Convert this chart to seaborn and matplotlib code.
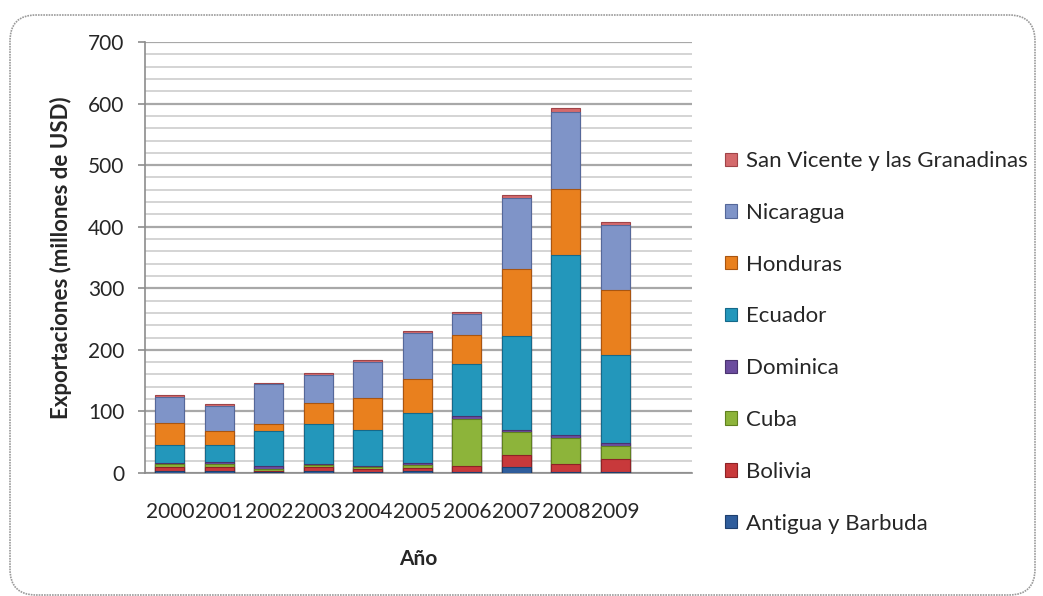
import numpy as np
import pandas as pd
import seaborn as sns
import matplotlib.pyplot as plt
from matplotlib.patches import Patch, FancyBboxPatch
from matplotlib.transforms import Bbox, TransformedBbox, IdentityTransform

# Exportaciones por país y año (millones de USD)
years = ["2000", "2001", "2002", "2003", "2004", "2005", "2006", "2007", "2008", "2009"]
antigua = [3, 3, 1, 3, 2, 4, 2, 9, 2, 2]
bolivia = [6, 7, 2, 6, 4, 4, 9, 21, 13, 20]
cuba = [5, 5, 4, 4, 4, 5, 77, 36, 42, 22]
dominica = [3, 3, 5, 2, 2, 3, 4, 4, 5, 5]
ecuador = [29, 28, 56, 64, 58, 82, 85, 153, 292, 143]
honduras = [35, 22, 12, 34, 52, 54, 47, 108, 107, 106]
nicaragua = [42, 41, 64, 46, 59, 75, 35, 116, 125, 105]
san_vicente = [3, 3, 2, 3, 3, 4, 3, 4, 6, 4]

countries = ["Antigua y Barbuda", "Bolivia", "Cuba", "Dominica",
             "Ecuador", "Honduras", "Nicaragua", "San Vicente y las Granadinas"]
colors = ["#2f5d9c", "#c8393b", "#8db43a", "#6b4c9e",
          "#2397bb", "#e9801e", "#7f94c8", "#d46a6c"]
edges = ["#1e3f6e", "#8e2226", "#60801f", "#4a336f",
         "#15698a", "#a95510", "#55689a", "#a04448"]

series = [antigua, bolivia, cuba, dominica, ecuador, honduras, nicaragua, san_vicente]
df = pd.DataFrame(dict(zip(countries, series)), index=years)
cum = df.cumsum(axis=1)

sns.set_theme(style="white")
plt.rcParams["font.family"] = ["Lato", "DejaVu Sans"]
text_color = "#262626"

fig = plt.figure(figsize=(10.43, 5.96), dpi=100)
ax = fig.add_axes([145 / 1043, 1 - 473 / 596, (692 - 145) / 1043, (473 - 42) / 596])

# stacked bars: draw cumulative totals from the top series down
for i in range(len(countries) - 1, -1, -1):
    name = countries[i]
    sns.barplot(x=years, y=cum[name].values, order=years, color=colors[i],
                saturation=1, width=0.58, edgecolor=edges[i], linewidth=0.8,
                ax=ax, zorder=3)

ax.set_xlim(-0.5, 10.55)
ax.set_ylim(0, 700)
ax.set_yticks(np.arange(0, 701, 100))
ax.set_yticks(np.arange(0, 701, 20), minor=True)
ax.grid(False)
ax.yaxis.grid(True, which="minor", color="#d4d4d4", linewidth=1.4, zorder=0)
ax.yaxis.grid(True, which="major", color="#a8a8a8", linewidth=1.6, zorder=0)
ax.set_axisbelow(True)

for s in ["top", "right"]:
    ax.spines[s].set_visible(False)
ax.spines["left"].set_color("#8c8c8c")
ax.spines["bottom"].set_color("#8c8c8c")
ax.spines["left"].set_linewidth(1.2)
ax.spines["bottom"].set_linewidth(1.2)

ax.tick_params(axis="y", which="major", left=True, length=5, width=1.2,
               color="#8c8c8c", pad=10, labelsize=15, labelcolor=text_color)
ax.tick_params(axis="y", which="minor", left=False)
ax.tick_params(axis="x", length=0, pad=21, labelsize=15, labelcolor=text_color)

ax.set_ylabel("Exportaciones (millones de USD)", fontsize=16, fontweight="bold",
              color=text_color)
ax.yaxis.set_label_coords(-0.133, 0.5)
ax.set_xlabel("Año", fontsize=15, fontweight="bold", color=text_color, labelpad=19.5)

# the chart frame cuts the axis title at its lower edge
clip = TransformedBbox(Bbox([[0, 31], [1043, 596]]), IdentityTransform())
ax.xaxis.label.set_clip_box(clip)
ax.xaxis.label.set_clip_on(True)

handles = [Patch(facecolor=colors[i], edgecolor=edges[i], linewidth=0.8)
           for i in range(len(countries) - 1, -1, -1)]
labels = countries[::-1]
fig.legend(handles, labels, loc="upper left",
           bbox_to_anchor=(714 / 1043, 1 - 140 / 596), frameon=False,
           fontsize=16, labelspacing=1.43, handlelength=0.55, handleheight=0.55,
           handletextpad=0.4, borderpad=0, labelcolor=text_color)

frame = FancyBboxPatch((10, 1), 1025, 580, boxstyle="round,pad=0,rounding_size=26",
                       transform=IdentityTransform(), facecolor="none",
                       edgecolor="#9a9a9a", linewidth=1.2, linestyle=(0, (1, 0.6)))
fig.add_artist(frame)

fig.savefig("out.png", dpi=100)
